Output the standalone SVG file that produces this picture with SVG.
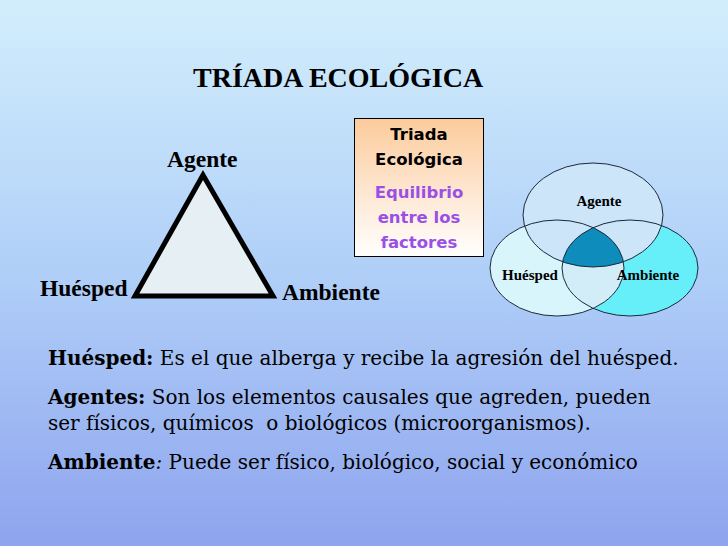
<svg xmlns="http://www.w3.org/2000/svg" width="728" height="546" viewBox="0 0 728 546">
<defs>
<linearGradient id="bg" x1="0" y1="0" x2="0" y2="1">
<stop offset="0" stop-color="#d2eefc"/>
<stop offset="0.5" stop-color="#b0cff8"/>
<stop offset="1" stop-color="#8ea4ee"/>
</linearGradient>
<linearGradient id="box" x1="0" y1="0" x2="0" y2="1">
<stop offset="0" stop-color="#fccb9c"/>
<stop offset="1" stop-color="#ffffff"/>
</linearGradient>
<clipPath id="cH"><ellipse cx="557" cy="268" rx="67" ry="48"/></clipPath>
<clipPath id="cA"><ellipse cx="630" cy="268" rx="68" ry="48"/></clipPath>
<style>
.lbl{font-family:"Liberation Serif","Times New Roman",serif;font-weight:bold;fill:#000}
.box{font-family:"DejaVu Sans","Noto Sans",sans-serif;font-weight:bold;font-size:16.5px;text-anchor:middle}
.body{font-family:"DejaVu Serif",serif;font-size:20px;fill:#000;white-space:pre}
.ol{fill:none;stroke:#1a2a3a;stroke-width:1}
</style>
</defs>
<rect width="728" height="546" fill="url(#bg)"/>
<text class="lbl" x="193" y="87" font-size="28">TRÍADA ECOLÓGICA</text>
<g id="triangle">
<polygon points="203,175 135,296 273,296" fill="#e6eff4" stroke="#000" stroke-width="5" stroke-linejoin="miter"/>
<text class="lbl" x="167" y="167" font-size="23.5">Agente</text>
<text class="lbl" x="40" y="296" font-size="23.5">Huésped</text>
<text class="lbl" x="282" y="300" font-size="23.5">Ambiente</text>
</g>
<g id="box-triada">
<rect x="354.5" y="118.5" width="129" height="138" fill="url(#box)" stroke="#000" stroke-width="1"/>
<text class="box" x="419" y="140" fill="#000">Triada</text>
<text class="box" x="419" y="165" fill="#000">Ecológica</text>
<text class="box" x="419" y="198" fill="#9a50e6">Equilibrio</text>
<text class="box" x="419" y="223" fill="#9a50e6">entre los</text>
<text class="box" x="419" y="248" fill="#9a50e6">factores</text>
</g>
<g id="venn">
<ellipse cx="630" cy="268" rx="68" ry="48" fill="#66eff8"/>
<ellipse cx="557" cy="268" rx="67" ry="48" fill="#d8f5fb"/>
<g clip-path="url(#cA)"><ellipse cx="557" cy="268" rx="67" ry="48" fill="#d2ecf8"/></g>
<ellipse cx="593" cy="215" rx="70" ry="52" fill="#cde5f8"/>
<g clip-path="url(#cH)"><g clip-path="url(#cA)"><ellipse cx="593" cy="215" rx="70" ry="52" fill="#0e8cbc"/></g></g>
<ellipse class="ol" cx="630" cy="268" rx="68" ry="48"/>
<ellipse class="ol" cx="557" cy="268" rx="67" ry="48"/>
<ellipse class="ol" cx="593" cy="215" rx="70" ry="52"/>
<text class="lbl" x="599" y="206" font-size="15" text-anchor="middle">Agente</text>
<text class="lbl" x="530" y="280" font-size="15" text-anchor="middle">Huésped</text>
<text class="lbl" x="648" y="280" font-size="15" text-anchor="middle">Ambiente</text>
</g>
<g id="text">
<text class="body" x="48" y="365"><tspan font-weight="bold">Huésped:</tspan> Es el que alberga y recibe la agresión del huésped.</text>
<text class="body" x="48" y="404"><tspan font-weight="bold">Agentes:</tspan> Son los elementos causales que agreden, pueden</text>
<text class="body" x="48" y="430" xml:space="preserve">ser físicos, químicos  o biológicos (microorganismos).</text>
<text class="body" x="48" y="469"><tspan font-weight="bold">Ambiente</tspan><tspan font-style="italic">:</tspan> Puede ser físico, biológico, social y económico</text>
</g>
</svg>
